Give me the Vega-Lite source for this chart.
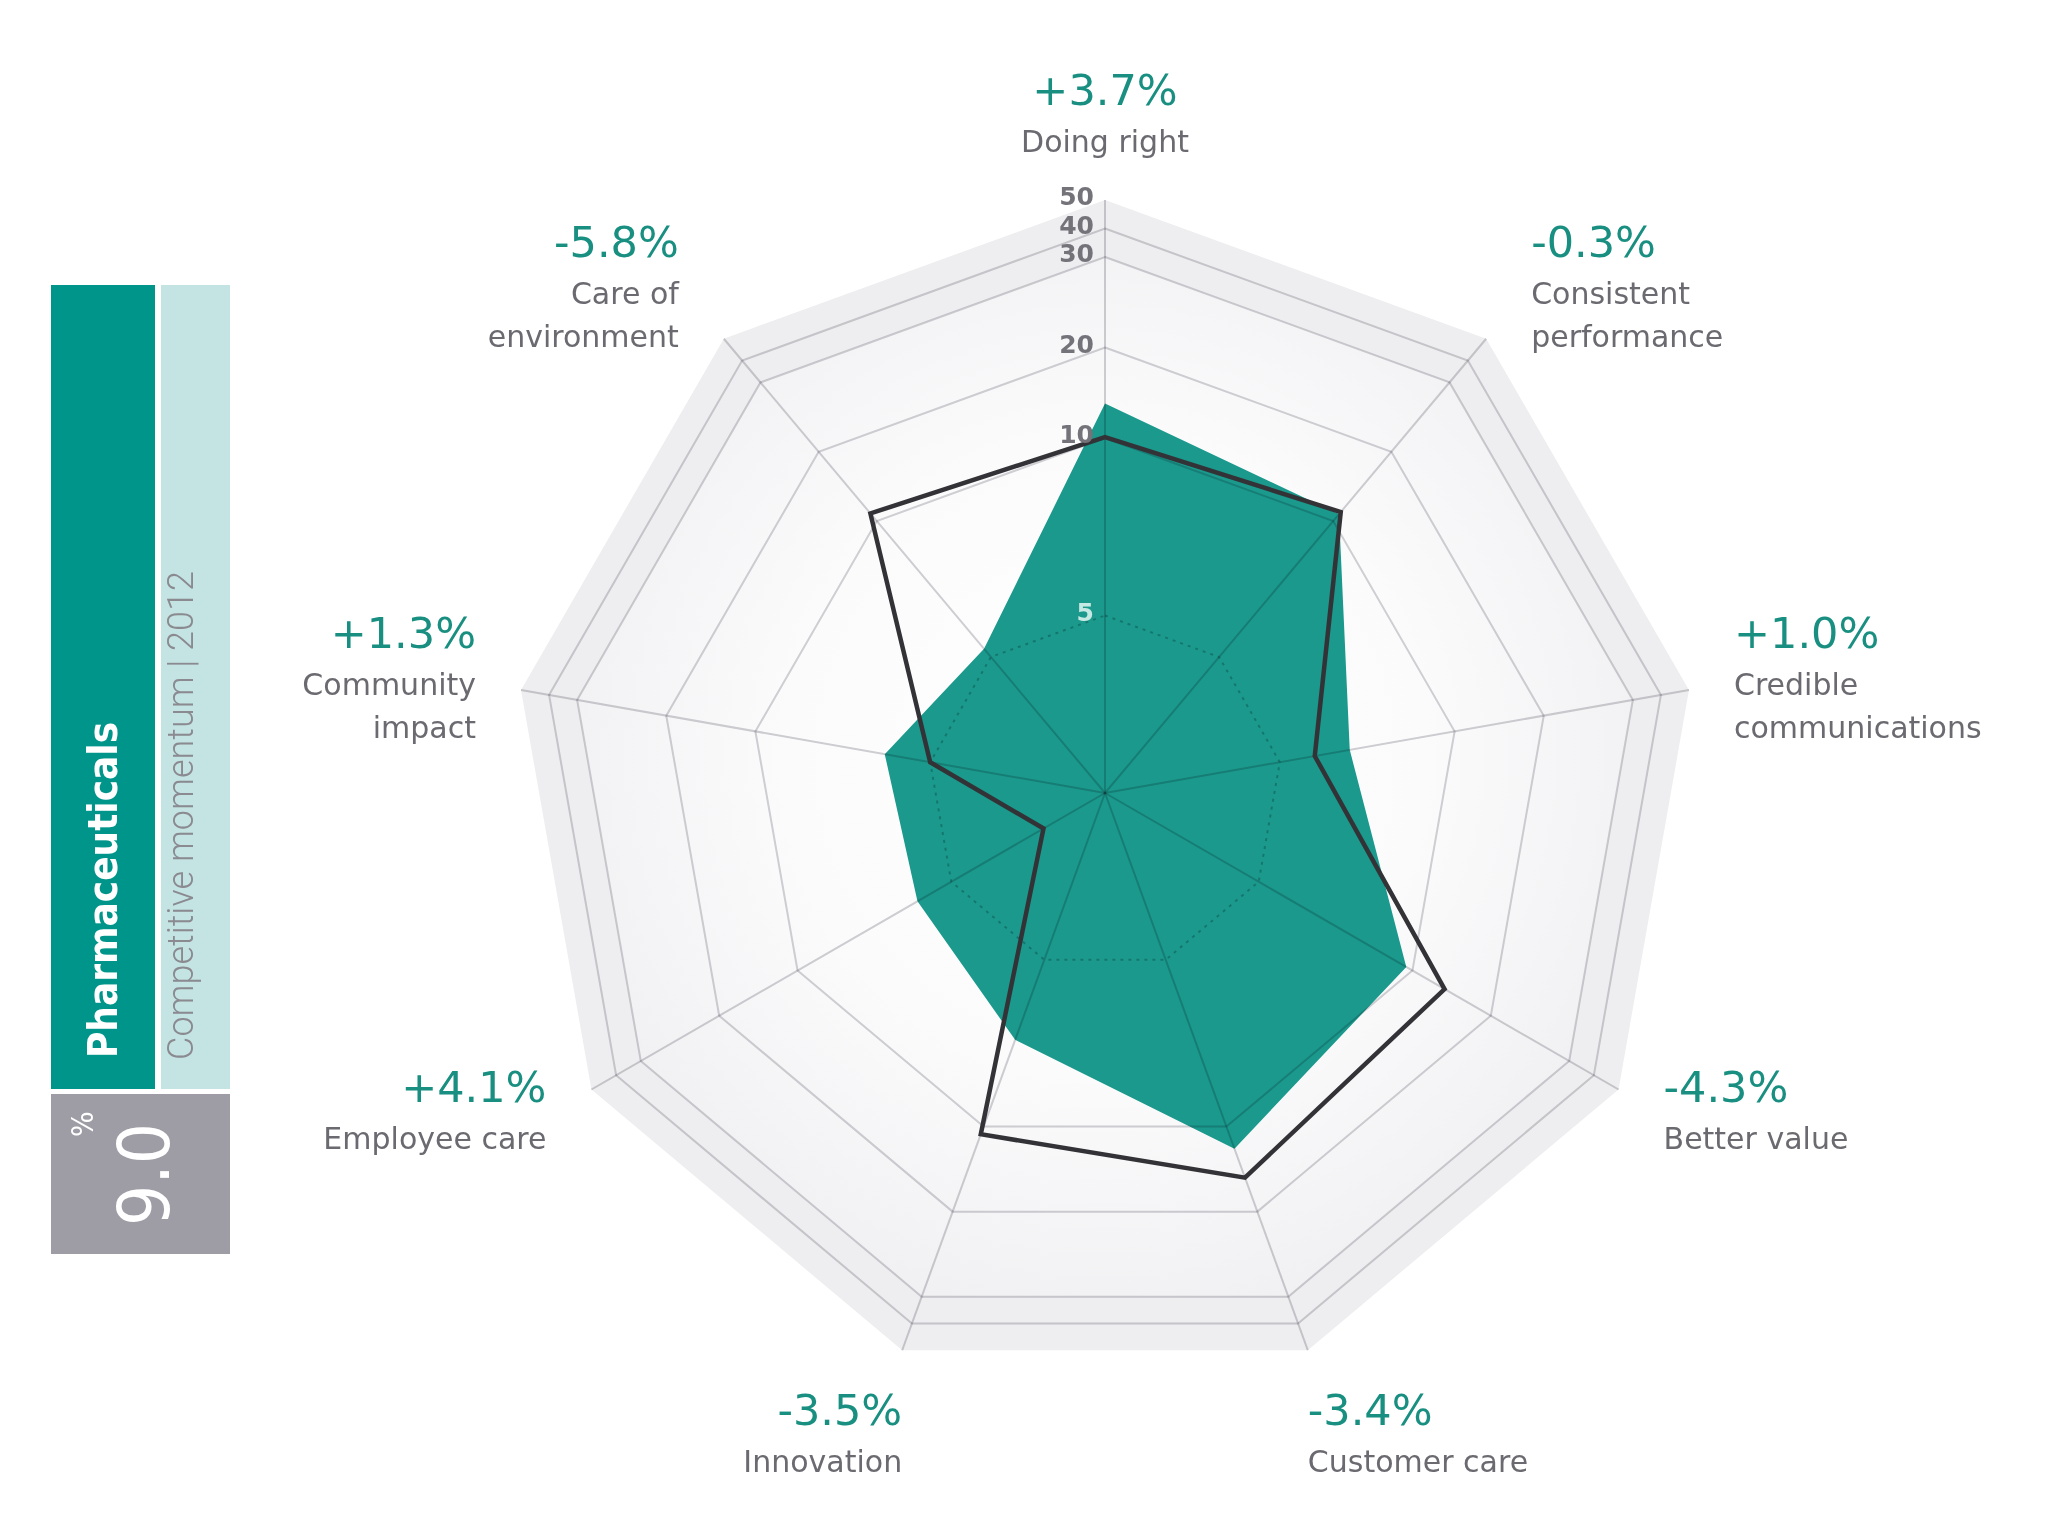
{
  "$schema": "https://vega.github.io/schema/vega-lite/v6.json",
  "width": 2048,
  "height": 1536,
  "autosize": "none",
  "padding": 0,
  "background": "#ffffff",
  "config": {"view": {"stroke": null}},
  "datasets": {
    "axes": [
      {"i": 0, "axis": ["Doing right"], "change": "+3.7%", "score": 13.8, "prev": 10.1, "levels": [5, 10, 20, 30, 40, 50]},
      {"i": 1, "axis": ["Consistent", "performance"], "change": "-0.3%", "score": 11.0, "prev": 11.3, "levels": [5, 10, 20, 30, 40, 50]},
      {"i": 2, "axis": ["Credible", "communications"], "change": "+1.0%", "score": 7.0, "prev": 6.0, "levels": [5, 10, 20, 30, 40, 50]},
      {"i": 3, "axis": ["Better value"], "change": "-4.3%", "score": 9.8, "prev": 14.1, "levels": [5, 10, 20, 30, 40, 50]},
      {"i": 4, "axis": ["Customer care"], "change": "-3.4%", "score": 12.6, "prev": 16.0, "levels": [5, 10, 20, 30, 40, 50]},
      {"i": 5, "axis": ["Innovation"], "change": "-3.5%", "score": 7.4, "prev": 10.9, "levels": [5, 10, 20, 30, 40, 50]},
      {"i": 6, "axis": ["Employee care"], "change": "+4.1%", "score": 6.1, "prev": 2.0, "levels": [5, 10, 20, 30, 40, 50]},
      {"i": 7, "axis": ["Community", "impact"], "change": "+1.3%", "score": 6.3, "prev": 5.0, "levels": [5, 10, 20, 30, 40, 50]},
      {"i": 8, "axis": ["Care of", "environment"], "change": "-5.8%", "score": 5.3, "prev": 11.1, "levels": [5, 10, 20, 30, 40, 50]}
    ]
  },
  "layer": [
    {
      "data": {"name": "axes"},
      "transform": [
        {"flatten": ["levels"], "as": ["level"]},
        {"filter": "datum.level == 50"},
        {"calculate": "datum.level <= 10 ? datum.level * 35.5 : datum.level <= 30 ? 355 + (datum.level - 10) * 9.05 : 536 + (datum.level - 30) * 2.85", "as": "r"},
        {"calculate": "datum.r * sin(datum.i * 2 * PI / 9)", "as": "x"},
        {"calculate": "datum.r * cos(datum.i * 2 * PI / 9)", "as": "y"}
      ],
      "mark": {"type": "line", "interpolate": "linear-closed", "filled": true, "fill": "#eeeef0", "strokeWidth": 0},
      "encoding": {
        "x": {"field": "x", "type": "quantitative", "scale": {"domain": [-1105, 943], "nice": false, "zero": false}, "axis": null},
        "y": {"field": "y", "type": "quantitative", "scale": {"domain": [-743, 793], "nice": false, "zero": false}, "axis": null},
        "order": {"field": "i"}
      }
    },
    {
      "data": {"name": "axes"},
      "transform": [
        {"flatten": ["levels"], "as": ["level"]},
        {"filter": "datum.level == 30"},
        {"calculate": "datum.level <= 10 ? datum.level * 35.5 : datum.level <= 30 ? 355 + (datum.level - 10) * 9.05 : 536 + (datum.level - 30) * 2.85", "as": "r"},
        {"calculate": "datum.r * sin(datum.i * 2 * PI / 9)", "as": "x"},
        {"calculate": "datum.r * cos(datum.i * 2 * PI / 9)", "as": "y"}
      ],
      "mark": {
        "type": "line", "interpolate": "linear-closed", "filled": true, "strokeWidth": 0,
        "fill": {
          "gradient": "radial", "x1": 0.5, "y1": 0.48, "r1": 0, "x2": 0.5, "y2": 0.48, "r2": 0.55,
          "stops": [
            {"offset": 0, "color": "#ffffff"},
            {"offset": 0.55, "color": "#fbfbfc"},
            {"offset": 1, "color": "#f0f0f2"}
          ]
        }
      },
      "encoding": {
        "x": {"field": "x", "type": "quantitative", "scale": {"domain": [-1105, 943], "nice": false, "zero": false}, "axis": null},
        "y": {"field": "y", "type": "quantitative", "scale": {"domain": [-743, 793], "nice": false, "zero": false}, "axis": null},
        "order": {"field": "i"}
      }
    },
    {
      "data": {"name": "axes"},
      "transform": [
        {"calculate": "datum.score <= 10 ? datum.score * 35.5 : datum.score <= 30 ? 355 + (datum.score - 10) * 9.05 : 536 + (datum.score - 30) * 2.85", "as": "r"},
        {"calculate": "datum.r * sin(datum.i * 2 * PI / 9)", "as": "x"},
        {"calculate": "datum.r * cos(datum.i * 2 * PI / 9)", "as": "y"}
      ],
      "mark": {"type": "line", "interpolate": "linear-closed", "filled": true, "fill": "#1a998c", "strokeWidth": 0},
      "encoding": {
        "x": {"field": "x", "type": "quantitative", "scale": {"domain": [-1105, 943], "nice": false, "zero": false}, "axis": null},
        "y": {"field": "y", "type": "quantitative", "scale": {"domain": [-743, 793], "nice": false, "zero": false}, "axis": null},
        "order": {"field": "i"}
      }
    },
    {
      "data": {"name": "axes"},
      "transform": [
        {"flatten": ["levels"], "as": ["level"]},
        {"filter": "datum.level >= 10 && datum.level <= 40"},
        {"calculate": "datum.level <= 10 ? datum.level * 35.5 : datum.level <= 30 ? 355 + (datum.level - 10) * 9.05 : 536 + (datum.level - 30) * 2.85", "as": "r"},
        {"calculate": "datum.r * sin(datum.i * 2 * PI / 9)", "as": "x"},
        {"calculate": "datum.r * cos(datum.i * 2 * PI / 9)", "as": "y"}
      ],
      "mark": {"type": "line", "interpolate": "linear-closed", "stroke": "#d2d2d6", "strokeWidth": 2, "blend": "multiply"},
      "encoding": {
        "x": {"field": "x", "type": "quantitative", "scale": {"domain": [-1105, 943], "nice": false, "zero": false}, "axis": null},
        "y": {"field": "y", "type": "quantitative", "scale": {"domain": [-743, 793], "nice": false, "zero": false}, "axis": null},
        "detail": {"field": "level", "type": "nominal"},
        "order": {"field": "i"}
      }
    },
    {
      "data": {"name": "axes"},
      "transform": [
        {"flatten": ["levels"], "as": ["level"]},
        {"filter": "datum.level == 5"},
        {"calculate": "datum.level * 35.5", "as": "r"},
        {"calculate": "datum.r * sin(datum.i * 2 * PI / 9)", "as": "x"},
        {"calculate": "datum.r * cos(datum.i * 2 * PI / 9)", "as": "y"}
      ],
      "mark": {"type": "line", "interpolate": "linear-closed", "stroke": "#c4c6c8", "strokeWidth": 2, "strokeDash": [3, 5], "blend": "multiply"},
      "encoding": {
        "x": {"field": "x", "type": "quantitative", "scale": {"domain": [-1105, 943], "nice": false, "zero": false}, "axis": null},
        "y": {"field": "y", "type": "quantitative", "scale": {"domain": [-743, 793], "nice": false, "zero": false}, "axis": null},
        "order": {"field": "i"}
      }
    },
    {
      "data": {"name": "axes"},
      "transform": [
        {"flatten": ["levels"], "as": ["level"]},
        {"filter": "datum.level == 50"},
        {"calculate": "536 + (datum.level - 30) * 2.85", "as": "r"},
        {"calculate": "datum.r * sin(datum.i * 2 * PI / 9)", "as": "x"},
        {"calculate": "datum.r * cos(datum.i * 2 * PI / 9)", "as": "y"}
      ],
      "mark": {"type": "rule", "stroke": "#d0d0d4", "strokeWidth": 2, "blend": "multiply"},
      "encoding": {
        "x": {"field": "x", "type": "quantitative", "scale": {"domain": [-1105, 943], "nice": false, "zero": false}, "axis": null},
        "y": {"field": "y", "type": "quantitative", "scale": {"domain": [-743, 793], "nice": false, "zero": false}, "axis": null},
        "x2": {"datum": 0},
        "y2": {"datum": 0}
      }
    },
    {
      "data": {"name": "axes"},
      "transform": [
        {"calculate": "datum.prev <= 10 ? datum.prev * 35.5 : datum.prev <= 30 ? 355 + (datum.prev - 10) * 9.05 : 536 + (datum.prev - 30) * 2.85", "as": "r"},
        {"calculate": "datum.r * sin(datum.i * 2 * PI / 9)", "as": "x"},
        {"calculate": "datum.r * cos(datum.i * 2 * PI / 9)", "as": "y"}
      ],
      "mark": {"type": "line", "interpolate": "linear-closed", "stroke": "#333337", "strokeWidth": 4.5, "strokeJoin": "miter"},
      "encoding": {
        "x": {"field": "x", "type": "quantitative", "scale": {"domain": [-1105, 943], "nice": false, "zero": false}, "axis": null},
        "y": {"field": "y", "type": "quantitative", "scale": {"domain": [-743, 793], "nice": false, "zero": false}, "axis": null},
        "order": {"field": "i"}
      }
    },
    {
      "data": {"name": "axes"},
      "transform": [
        {"filter": "datum.i == 0"},
        {"flatten": ["levels"], "as": ["level"]},
        {"calculate": "datum.level <= 10 ? datum.level * 35.5 : datum.level <= 30 ? 355 + (datum.level - 10) * 9.05 : 536 + (datum.level - 30) * 2.85", "as": "r"}
      ],
      "mark": {"type": "text", "align": "right", "baseline": "middle", "dx": -11, "dy": -3, "font": "DejaVu Sans", "fontWeight": "bold", "fontSize": 25},
      "encoding": {
        "x": {"datum": 0, "type": "quantitative", "scale": {"domain": [-1105, 943], "nice": false, "zero": false}, "axis": null},
        "y": {"field": "r", "type": "quantitative", "scale": {"domain": [-743, 793], "nice": false, "zero": false}, "axis": null},
        "text": {"field": "level", "type": "quantitative"},
        "color": {"condition": {"test": "datum.level == 5", "value": "#c6e9e3"}, "value": "#737379"}
      }
    },
    {
      "data": {"name": "axes"},
      "transform": [
        {"calculate": "sin(datum.i * 2 * PI / 9)", "as": "s"},
        {"calculate": "cos(datum.i * 2 * PI / 9)", "as": "c"},
        {"calculate": "643 * datum.c + (77 + 43 * (length(datum.axis) - 1)) * (datum.c > 0.9 ? 1 : datum.c < -0.9 ? 0.05 : 0.54 + 0.15 * datum.c * datum.c)", "as": "top"},
        {"calculate": "593 * datum.s + (abs(datum.c) > 0.9 ? 0 : 45) * (datum.s > 0 ? 1 : -1)", "as": "lx"},
        {"calculate": "datum.top - 32", "as": "py"}
      ],
      "mark": {"type": "text", "baseline": "alphabetic", "align": {"expr": "datum.s > 0.1 ? 'left' : datum.s < -0.1 ? 'right' : 'center'"}, "font": "DejaVu Sans", "fontSize": 43, "color": "#188f80"},
      "encoding": {
        "x": {"field": "lx", "type": "quantitative", "scale": {"domain": [-1105, 943], "nice": false, "zero": false}, "axis": null},
        "y": {"field": "py", "type": "quantitative", "scale": {"domain": [-743, 793], "nice": false, "zero": false}, "axis": null},
        "text": {"field": "change", "type": "nominal"}
      }
    },
    {
      "data": {"name": "axes"},
      "transform": [
        {"calculate": "sin(datum.i * 2 * PI / 9)", "as": "s"},
        {"calculate": "cos(datum.i * 2 * PI / 9)", "as": "c"},
        {"calculate": "643 * datum.c + (77 + 43 * (length(datum.axis) - 1)) * (datum.c > 0.9 ? 1 : datum.c < -0.9 ? 0.05 : 0.54 + 0.15 * datum.c * datum.c)", "as": "top"},
        {"calculate": "593 * datum.s + (abs(datum.c) > 0.9 ? 0 : 45) * (datum.s > 0 ? 1 : -1)", "as": "lx"},
        {"calculate": "datum.top - 79", "as": "ny"}
      ],
      "mark": {"type": "text", "baseline": "alphabetic", "align": {"expr": "datum.s > 0.1 ? 'left' : datum.s < -0.1 ? 'right' : 'center'"}, "font": "DejaVu Sans", "fontSize": 30, "lineHeight": 43, "color": "#6a6a70"},
      "encoding": {
        "x": {"field": "lx", "type": "quantitative", "scale": {"domain": [-1105, 943], "nice": false, "zero": false}, "axis": null},
        "y": {"field": "ny", "type": "quantitative", "scale": {"domain": [-743, 793], "nice": false, "zero": false}, "axis": null},
        "text": {"field": "axis", "type": "nominal"}
      }
    },
    {
      "data": {"values": [{"panel": "sector"}]},
      "mark": {"type": "rect", "color": "#00958a"},
      "encoding": {
        "x": {"datum": -1054, "type": "quantitative", "scale": {"domain": [-1105, 943], "nice": false, "zero": false}, "axis": null},
        "x2": {"datum": -950},
        "y": {"datum": 508, "type": "quantitative", "scale": {"domain": [-743, 793], "nice": false, "zero": false}, "axis": null},
        "y2": {"datum": -296}
      }
    },
    {
      "data": {"values": [{"panel": "momentum"}]},
      "mark": {"type": "rect", "color": "#c4e4e3"},
      "encoding": {
        "x": {"datum": -944, "type": "quantitative", "scale": {"domain": [-1105, 943], "nice": false, "zero": false}, "axis": null},
        "x2": {"datum": -875},
        "y": {"datum": 508, "type": "quantitative", "scale": {"domain": [-743, 793], "nice": false, "zero": false}, "axis": null},
        "y2": {"datum": -296}
      }
    },
    {
      "data": {"values": [{"panel": "value"}]},
      "mark": {"type": "rect", "color": "#9e9da5"},
      "encoding": {
        "x": {"datum": -1054, "type": "quantitative", "scale": {"domain": [-1105, 943], "nice": false, "zero": false}, "axis": null},
        "x2": {"datum": -875},
        "y": {"datum": -301, "type": "quantitative", "scale": {"domain": [-743, 793], "nice": false, "zero": false}, "axis": null},
        "y2": {"datum": -461}
      }
    },
    {
      "data": {"values": [{"label": "Pharmaceuticals"}]},
      "mark": {"type": "text", "angle": 270, "align": "left", "baseline": "alphabetic", "font": "DejaVu Sans Condensed", "fontWeight": "bold", "fontSize": 40, "color": "#ffffff"},
      "encoding": {
        "x": {"datum": -988, "type": "quantitative", "scale": {"domain": [-1105, 943], "nice": false, "zero": false}, "axis": null},
        "y": {"datum": -265, "type": "quantitative", "scale": {"domain": [-743, 793], "nice": false, "zero": false}, "axis": null},
        "text": {"field": "label", "type": "nominal"}
      }
    },
    {
      "data": {"values": [{"label": "Competitive momentum | 2012"}]},
      "mark": {"type": "text", "angle": 270, "align": "left", "baseline": "alphabetic", "font": "Roboto", "fontWeight": 300, "fontSize": 36, "color": "#8a8a90"},
      "encoding": {
        "x": {"datum": -912, "type": "quantitative", "scale": {"domain": [-1105, 943], "nice": false, "zero": false}, "axis": null},
        "y": {"datum": -267, "type": "quantitative", "scale": {"domain": [-743, 793], "nice": false, "zero": false}, "axis": null},
        "text": {"field": "label", "type": "nominal"}
      }
    },
    {
      "data": {"values": [{"label": "9.0"}]},
      "mark": {"type": "text", "angle": 270, "align": "left", "baseline": "alphabetic", "font": "DejaVu Sans Condensed", "fontSize": 72, "color": "#ffffff"},
      "encoding": {
        "x": {"datum": -936, "type": "quantitative", "scale": {"domain": [-1105, 943], "nice": false, "zero": false}, "axis": null},
        "y": {"datum": -433, "type": "quantitative", "scale": {"domain": [-743, 793], "nice": false, "zero": false}, "axis": null},
        "text": {"field": "label", "type": "nominal"}
      }
    },
    {
      "data": {"values": [{"label": "%"}]},
      "mark": {"type": "text", "angle": 270, "align": "left", "baseline": "alphabetic", "font": "DejaVu Sans Condensed", "fontSize": 30, "color": "#ffffff"},
      "encoding": {
        "x": {"datum": -1012, "type": "quantitative", "scale": {"domain": [-1105, 943], "nice": false, "zero": false}, "axis": null},
        "y": {"datum": -344, "type": "quantitative", "scale": {"domain": [-743, 793], "nice": false, "zero": false}, "axis": null},
        "text": {"field": "label", "type": "nominal"}
      }
    }
  ]
}
